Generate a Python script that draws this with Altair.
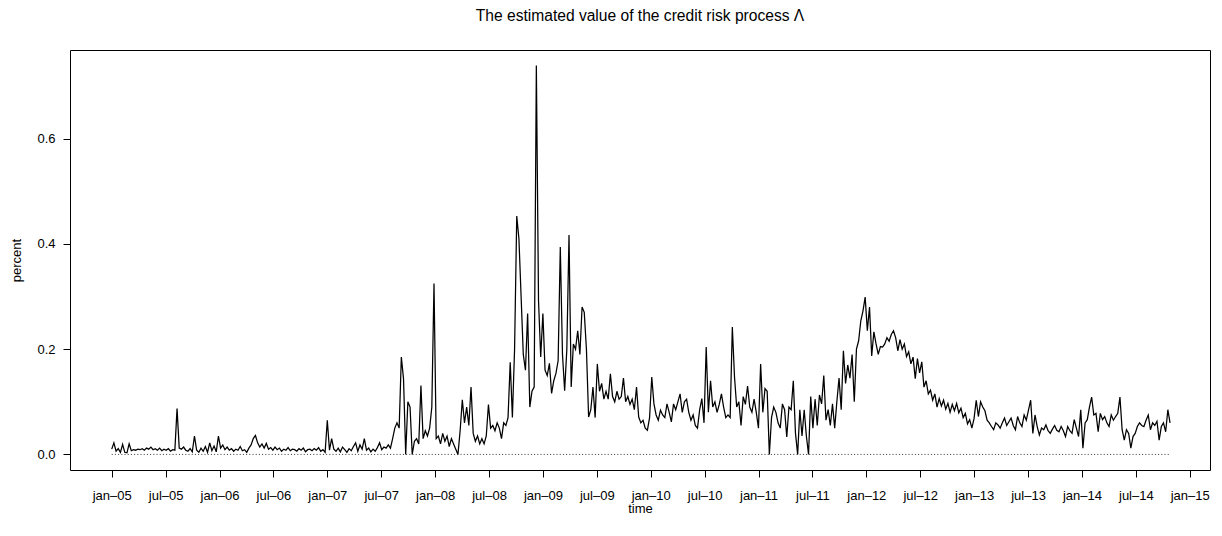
import json
import altair as alt
import pandas as pd

# ---- data (weekly samples of the estimated credit risk process, percent) ----
t_start = 2005.0
t_step = 0.0202  # years between samples

lam_a = [
    0.010, 0.022, 0.006, 0.011, 0.004, 0.019, 0.004, 0.003, 0.020, 0.007,
    0.009, 0.008, 0.010, 0.009, 0.011, 0.008, 0.012, 0.010, 0.014, 0.009,
    0.011, 0.008, 0.012, 0.007, 0.010, 0.008, 0.011, 0.006, 0.009, 0.008,
    0.087, 0.012, 0.010, 0.014, 0.008, 0.006, 0.011, 0.005, 0.035, 0.008,
    0.004, 0.012, 0.006, 0.015, 0.004, 0.022, 0.007, 0.016, 0.005, 0.035,
    0.012, 0.018, 0.009, 0.014, 0.008, 0.011, 0.006, 0.010, 0.008, 0.015,
    0.007, 0.009, 0.004, 0.012, 0.018, 0.030, 0.036, 0.022, 0.014, 0.020,
    0.012, 0.021, 0.010, 0.013, 0.008, 0.014, 0.009, 0.012, 0.006, 0.010,
    0.008, 0.013, 0.007, 0.010, 0.009, 0.006, 0.011, 0.008, 0.012, 0.005,
    0.009, 0.010, 0.007, 0.011, 0.008, 0.013, 0.006, 0.009, 0.004, 0.065,
    0.008, 0.030, 0.010, 0.006, 0.012, 0.005, 0.014, 0.009, 0.004, 0.011,
    0.007, 0.015, 0.022, 0.006, 0.018, 0.010, 0.030, 0.008, 0.012, 0.005,
    0.010, 0.006, 0.013, 0.022, 0.009, 0.014, 0.012, 0.018,
]
lam_b = [
    0.012, 0.030, 0.050, 0.060, 0.050, 0.185, 0.144, 0.000, 0.100, 0.090,
    0.000, 0.025, 0.030, 0.020, 0.131, 0.030, 0.045, 0.035, 0.050, 0.090,
    0.325, 0.030, 0.035, 0.020, 0.040, 0.025, 0.035, 0.015, 0.030, 0.020,
    0.010, 0.000, 0.045, 0.104, 0.060, 0.090, 0.055, 0.128, 0.040, 0.025,
    0.035, 0.020, 0.030, 0.020, 0.035, 0.095, 0.050, 0.055, 0.045, 0.060,
    0.050, 0.030, 0.060, 0.055, 0.070, 0.175, 0.070, 0.200, 0.453, 0.410,
    0.300, 0.190, 0.160, 0.268, 0.090, 0.120, 0.128, 0.739, 0.292, 0.185,
    0.268, 0.160,
]
lam_c = [
    0.150, 0.173, 0.116, 0.140, 0.154, 0.178, 0.394, 0.190, 0.121, 0.200,
    0.417, 0.128, 0.210, 0.200, 0.235, 0.190, 0.280, 0.270, 0.200, 0.071,
    0.085, 0.128, 0.070, 0.172, 0.120, 0.135, 0.105, 0.120, 0.105, 0.153,
    0.110, 0.100, 0.120, 0.105, 0.110, 0.145, 0.100, 0.110, 0.095, 0.105,
    0.085, 0.128, 0.071, 0.060, 0.065, 0.050, 0.046, 0.070, 0.147, 0.096,
    0.075, 0.065, 0.084, 0.075, 0.070, 0.096, 0.080, 0.062, 0.096, 0.085,
    0.100, 0.115, 0.080, 0.100, 0.105, 0.080, 0.065, 0.075, 0.055, 0.050,
    0.085, 0.106, 0.060, 0.204, 0.080, 0.140, 0.090, 0.100, 0.080, 0.095,
    0.115, 0.090, 0.070, 0.075, 0.070, 0.242, 0.147, 0.090, 0.100, 0.055,
    0.110, 0.095, 0.130, 0.090, 0.080, 0.105, 0.080, 0.050, 0.172, 0.080,
]
lam_d = [
    0.125, 0.120, 0.000, 0.070, 0.090, 0.080, 0.060, 0.050, 0.096, 0.085,
    0.033, 0.090, 0.085, 0.140, 0.040, 0.000, 0.085, 0.035, 0.085, 0.035,
    0.000, 0.110, 0.050, 0.105, 0.055, 0.113, 0.096, 0.150, 0.065, 0.085,
    0.055, 0.096, 0.050, 0.100, 0.145, 0.085, 0.197, 0.135, 0.170, 0.145,
    0.190, 0.100, 0.200, 0.216, 0.254, 0.273, 0.299, 0.235, 0.280, 0.187,
    0.233, 0.210, 0.190, 0.205, 0.204, 0.210, 0.222, 0.215, 0.228, 0.235,
    0.222, 0.197, 0.218, 0.200, 0.210, 0.186, 0.195, 0.172, 0.185, 0.144,
    0.182, 0.155, 0.176, 0.128, 0.140, 0.115, 0.122, 0.103, 0.115, 0.090,
    0.106, 0.092, 0.103, 0.086, 0.097, 0.080, 0.095, 0.083, 0.097, 0.079,
    0.088, 0.070, 0.078, 0.058, 0.066, 0.050, 0.068, 0.103, 0.072, 0.100,
]
lam_e = [
    0.090, 0.083, 0.065, 0.060, 0.053, 0.047, 0.060, 0.056, 0.050, 0.060,
    0.069, 0.055, 0.062, 0.069, 0.055, 0.047, 0.072, 0.060, 0.053, 0.075,
    0.065, 0.084, 0.103, 0.040, 0.075, 0.053, 0.037, 0.050, 0.047, 0.056,
    0.045, 0.040, 0.048, 0.055, 0.046, 0.043, 0.053, 0.045, 0.034, 0.053,
    0.045, 0.040, 0.066, 0.050, 0.034, 0.085, 0.012, 0.060, 0.066, 0.090,
    0.109, 0.075, 0.078, 0.043, 0.078, 0.066, 0.072, 0.060, 0.053, 0.075,
    0.065, 0.072, 0.078, 0.109, 0.047, 0.027, 0.047, 0.040, 0.012, 0.034,
    0.040, 0.053, 0.060, 0.055, 0.053, 0.065, 0.075, 0.047, 0.060, 0.055,
    0.063, 0.027, 0.053, 0.060, 0.043, 0.085, 0.060,
]

tick_vals = [2005 + 0.5 * k for k in range(21)]
tick_labels = [
    "jan–05", "jul–05", "jan–06", "jul–06", "jan–07", "jul–07", "jan–08",
    "jul–08", "jan–09", "jul–09", "jan–10", "jul–10", "jan–11", "jul–11",
    "jan–12", "jul–12", "jan–13", "jul–13", "jan–14", "jul–14", "jan–15",
]
y_ticks = [0.0, 0.2, 0.4, 0.6]
title_text = "The estimated value of the credit risk process Λ"

lam = lam_a + lam_b + lam_c + lam_d + lam_e
t = [t_start + i * t_step for i in range(len(lam))]
df = pd.DataFrame({"t": t, "lam": lam})
zero_df = pd.DataFrame({"t": [t[0], t[-1]], "lam": [0.0, 0.0]})
title_df = pd.DataFrame({"label": [title_text]})

FONT = "Liberation Sans"
W, H = 1140, 420
label_expr = json.dumps(tick_labels, ensure_ascii=False) + "[round((datum.value - 2005) * 2)]"

x_enc = alt.X(
    "t:Q",
    scale=alt.Scale(domain=[2004.613, 2015.188], nice=False, zero=False),
    axis=alt.Axis(
        values=tick_vals, labelExpr=label_expr, title="time",
        titleY=42, titleBaseline="alphabetic", labelPadding=12,
        labelFlush=False, labelOverlap=False,
    ),
)
y_enc = alt.Y(
    "lam:Q",
    scale=alt.Scale(domain=[-0.0296, 0.7686], nice=False, zero=False),
    axis=alt.Axis(
        values=y_ticks, format=".1f", title="percent",
        titleX=-50, titleBaseline="alphabetic", labelPadding=8,
    ),
)

line = alt.Chart(df).mark_line(color="black", strokeWidth=1.25).encode(x=x_enc, y=y_enc)
zero = alt.Chart(zero_df).mark_line(
    color="black", strokeWidth=0.8, strokeDash=[1, 2.2]
).encode(x="t:Q", y="lam:Q")
title = alt.Chart(title_df).mark_text(
    font=FONT, fontSize=15.6, color="black", align="center", baseline="alphabetic"
).encode(x=alt.value(W / 2), y=alt.value(-29), text="label:N")

chart = (
    alt.layer(zero, line, title)
    .properties(
        width=W,
        height=H,
        autosize="none",
        padding={"left": 62, "top": 42, "right": 4, "bottom": 56},
    )
    .configure(font=FONT)
    .configure_view(stroke="black", strokeWidth=1)
    .configure_axis(
        domain=False, grid=False,
        tickColor="black", tickSize=7, tickWidth=1,
        labelFont=FONT, labelFontSize=13, labelColor="black",
        titleFont=FONT, titleFontSize=13, titleFontWeight="normal", titleColor="black",
    )
)

chart.save("out.html", embed_options={"renderer": "svg", "actions": False})
